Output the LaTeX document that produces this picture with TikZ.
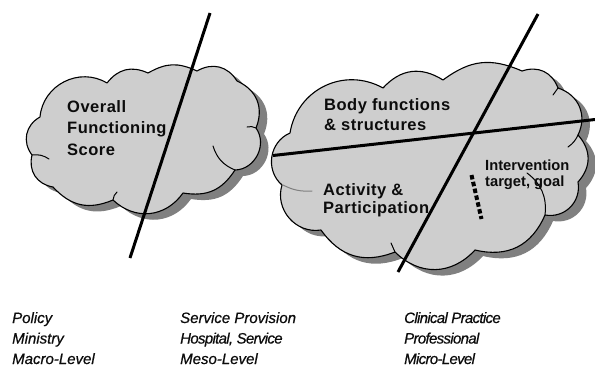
\documentclass[tikz,border=0pt]{standalone}
\usepackage{fontspec}
\setmainfont{Liberation Sans}
\newfontfamily\cloudfont[LetterSpace=3]{Liberation Sans}
\newfontfamily\levelfont[ItalicFeatures={FakeBold=0.6}]{Liberation Sans}
\newfontfamily\tightfont[LetterSpace=-4.5, ItalicFeatures={FakeBold=0.6}]{Liberation Sans}

\definecolor{cloudfill}{RGB}{206,206,206}
\definecolor{cloudshade}{RGB}{128,128,128}
\definecolor{ink}{RGB}{12,12,12}

\tikzset{
  puff/.style={bend left=#1, looseness=1.1},
  cloudedge/.style={draw=black, line width=1.1pt, fill=cloudfill, line join=round},
  cloudshadow/.style={fill=cloudshade},
  curl/.style={draw=black, line width=1pt, line cap=round},
  axisline/.style={draw=black, line width=3pt},
  marker/.style={draw=black, line width=4pt, dash pattern=on 4.5pt off 2.5pt},
  cloudlabel/.style={font=\cloudfont\bfseries\fontsize{16.5}{19}\selectfont, text=ink, anchor=base west, inner sep=0pt},
  goallabel/.style={font=\bfseries\fontsize{14.7}{17}\selectfont, text=ink, anchor=base west, inner sep=0pt},
  levellabel/.style={font=\levelfont\itshape\fontsize{15}{18}\selectfont, text=ink, anchor=base west, inner sep=0pt},
  tightlabel/.style={font=\tightfont\itshape\fontsize{15}{18}\selectfont, text=ink, anchor=base west, inner sep=0pt},
}

% outline of the small cloud (clockwise, puff by puff)
\def\smallcloud{(40,117) to[puff=58] (107,83) to[puff=38] (148,73) to[puff=27] (197,71)
  to[puff=44] (237,81) to[puff=44] (256,128) to[puff=62] (235,170) to[puff=33] (183,193)
  to[puff=49] (113,200) to[puff=35] (53,187) to[puff=47] (32,155) to[puff=49] (40,117) -- cycle}

% outline of the large cloud
\def\largecloud{(290,133) to[puff=55] (383,88) to[puff=40] (443,80) to[puff=30] (522,71)
  to[puff=44] (558,88) to[puff=49] (578,135) to[puff=42] (578,182) to[puff=55] (545,215)
  to[puff=40] (475,250) to[puff=46] (395,252) to[puff=38] (321,230) to[puff=58] (282,185)
  to[puff=58] (290,133) -- cycle}

\begin{document}
\begin{tikzpicture}[x=1pt, y=-1pt]
\useasboundingbox (0,0) rectangle (595,376);
\fill[white] (0,0) rectangle (595,376);

% shadows
\begin{scope}[shift={(8,6)}]
  \fill[cloudshadow] \smallcloud;
  \fill[cloudshadow] \largecloud;
\end{scope}

% clouds
\filldraw[cloudedge] \smallcloud;
\filldraw[cloudedge] \largecloud;

% inner curls of the small cloud
\draw[curl] (32,155) to[bend left=20] (49,159);
\draw[curl] (113,200) to[bend left=20] (117,192);
\draw[curl] (256,128) to[bend right=20] (247,127);
\draw[curl] (235,170) to[bend left=25] (213,146);

% inner curls of the large cloud
\draw[curl, draw=gray] (283,185) to[bend right=15] (312,191);
\draw[curl] (558,88) -- (553,95);
\draw[curl] (578,135) to[bend left=15] (568,147);
\draw[curl] (545,215) to[bend right=30] (527,173);
\draw[curl] (395,252) -- (391,243);

% end points of the dividing lines
\coordinate (divAtop) at (210,13);
\coordinate (divAbot) at (130,258);
\coordinate (divBleft) at (273,155.5);
\coordinate (divBright) at (595,119.5);
\coordinate (divCtop) at (538,14);
\coordinate (divCbot) at (398,272);
\coordinate (markTop) at (471.5,175);
\coordinate (markBot) at (481.5,219);

% labels inside the clouds
\node[cloudlabel] (ov1) at (67,112.5) {Overall};
\node[cloudlabel] (ov2) at (67,133.5) {Functioning};
\node[cloudlabel] (ov3) at (67,155) {Score};

\node[cloudlabel] (bf1) at (324,110) {Body functions};
\node[cloudlabel] (bf2) at (324,130) {\& structures};
\node[cloudlabel] (ap1) at (323,195) {Activity \&};
\node[cloudlabel] (ap2) at (323,213) {Participation};

\node[goallabel] (ig1) at (485,170) {Intervention};
\node[goallabel] (ig2) at (485,186.5) {target, goal};

% dividing lines
\draw[axisline] (divAtop) -- (divAbot);
\draw[axisline] (divBleft) -- (divBright);
\draw[axisline] (divCtop) -- (divCbot);
\draw[marker] (markTop) -- (markBot);

% level captions
\node[levellabel] (po1) at (12,323) {Policy};
\node[levellabel] (po2) at (12,343.5) {Ministry};
\node[levellabel] (po3) at (12,364) {Macro-Level};

\node[levellabel] (sp1) at (180,323) {Service Provision};
\node[tightlabel] (sp2) at (180,343.5) {Hospital, Service};
\node[levellabel] (sp3) at (180,364) {Meso-Level};

\node[tightlabel] (cp1) at (404,323) {Clinical Practice};
\node[tightlabel] (cp2) at (404,343.5) {Professional};
\node[tightlabel] (cp3) at (404,364) {Micro-Level};
\end{tikzpicture}
\end{document}
